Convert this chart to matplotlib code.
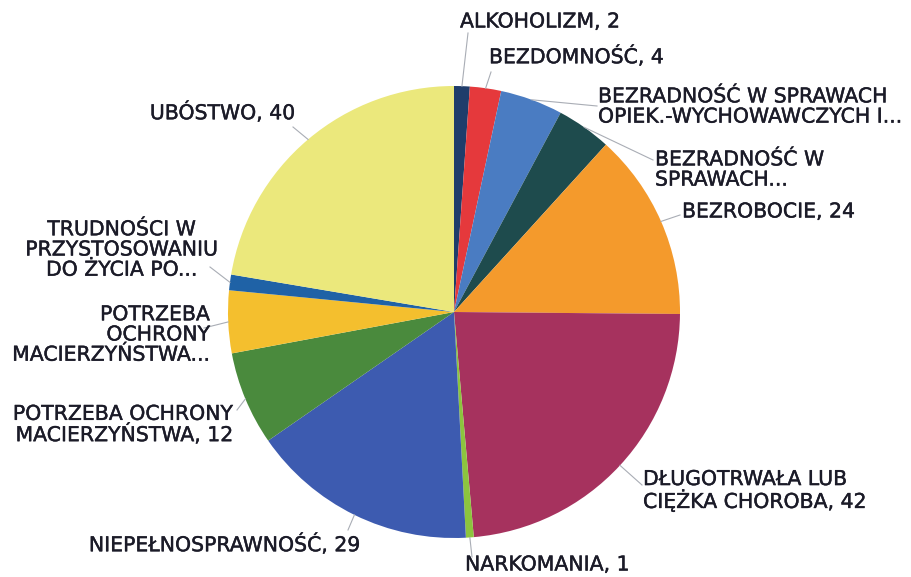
import numpy as np
import matplotlib
matplotlib.use("Agg")
import matplotlib.pyplot as plt
import matplotlib.patheffects as pe

# slices clockwise from 12 o'clock
labels = [
    "ALKOHOLIZM, 2",
    "BEZDOMNOŚĆ, 4",
    "BEZRADNOŚĆ W SPRAWACH\nOPIEK.-WYCHOWAWCZYCH I...",
    "BEZRADNOŚĆ W\nSPRAWACH...",
    "BEZROBOCIE, 24",
    "DŁUGOTRWAŁA LUB\nCIĘŻKA CHOROBA, 42",
    "NARKOMANIA, 1",
    "NIEPEŁNOSPRAWNOŚĆ, 29",
    "POTRZEBA OCHRONY\nMACIERZYŃSTWA, 12",
    "POTRZEBA\nOCHRONY\nMACIERZYŃSTWA...",
    "TRUDNOŚCI W\nPRZYSTOSOWANIU\nDO ŻYCIA PO...",
    "UBÓSTWO, 40",
]
values = [2, 4, 8, 7, 24, 42, 1, 29, 12, 8, 2, 40]
colors = [
    "#1f3d6b", "#e5393c", "#4a7cc2", "#1e4b4d", "#f49a2c", "#a6325e",
    "#8cc43e", "#3d5bb0", "#4a8a3d", "#f4bf2e", "#1f62a6", "#ebe87c",
]

# label placement (pixel coords, y from top): x, y, ha, multialignment, leader end
label_pos = [
    (460, 22, "left", "left", (468, 33)),
    (489, 57, "left", "left", (491, 72)),
    (598, 107, "left", "left", (597, 106)),
    (655, 170, "left", "left", (653, 160)),
    (682, 212, "left", "left", (680, 215)),
    (643, 491, "left", "left", (642, 485)),
    (465, 565, "left", "left", (472, 557)),
    (360, 545, "right", "right", (348, 530)),
    (233, 425, "right", "right", (237, 410)),
    (210, 335, "right", "right", (204, 328)),
    (218, 250, "right", "center", (210, 267)),
    (295, 113, "right", "right", (293, 127)),
]

W, H = 912, 577
cx, cy, r = 454, 312, 226


def Y(y):
    return H - y


fig = plt.figure(figsize=(W / 100, H / 100), dpi=100)
ax = fig.add_axes([0, 0, 1, 1])

ax.pie(values, colors=colors, startangle=90, counterclock=False,
       center=(cx, Y(cy)), radius=r, frame=True,
       wedgeprops=dict(linewidth=0))
ax.set_xlim(0, W)
ax.set_ylim(0, H)
ax.set_aspect("equal")
ax.axis("off")

total = sum(values)
cum = np.cumsum([0] + values)
txt_fx = [pe.withStroke(linewidth=0.3, foreground="#1b1b28")]
for i, (lab, pos) in enumerate(zip(labels, label_pos)):
    x, y, ha, ma, end = pos
    mid = np.deg2rad((cum[i] + values[i] / 2) / total * 360)
    sx = cx + r * np.sin(mid)
    sy = cy - r * np.cos(mid)
    ax.plot([sx, end[0]], [Y(sy), Y(end[1])], color="#a9adb5", linewidth=0.8)
    ax.text(x, Y(y), lab, ha=ha, va="center", multialignment=ma,
            fontsize=14.7, color="#1b1b28", linespacing=1.08,
            path_effects=txt_fx)

fig.savefig("out.png", dpi=100, facecolor="white")
